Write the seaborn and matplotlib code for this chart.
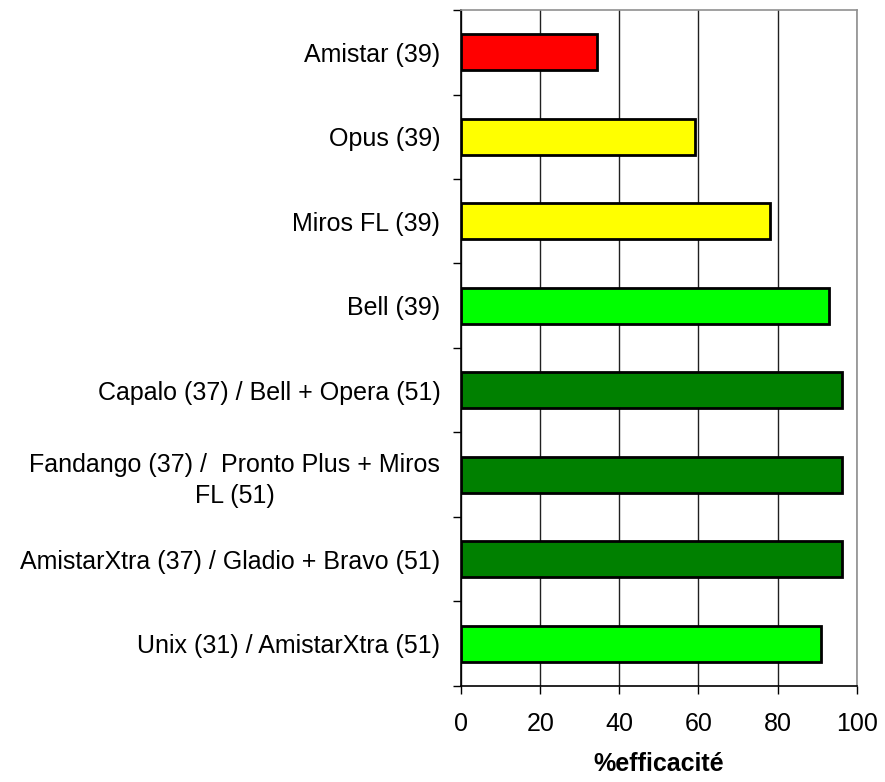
import numpy as np
import pandas as pd
import matplotlib
matplotlib.use("Agg")
import matplotlib.pyplot as plt
import seaborn as sns

# Données
traitements = [
    "Amistar (39)",
    "Opus (39)",
    "Miros FL (39)",
    "Bell (39)",
    "Capalo (37) / Bell + Opera (51)",
    "Fandango (37) /  Pronto Plus + Miros\nFL (51)",
    "AmistarXtra (37) / Gladio + Bravo (51)",
    "Unix (31) / AmistarXtra (51)",
]
efficacite = [34.4, 59.2, 78.1, 93.1, 96.4, 96.4, 96.4, 90.9]
couleurs = ["#FF0000", "#FFFF00", "#FFFF00", "#00FF00",
            "#008000", "#008000", "#008000", "#00FF00"]

data = pd.DataFrame({"traitement": traitements, "efficacite": efficacite})

sns.set_style("white")
plt.rcParams["font.family"] = ["Liberation Sans", "DejaVu Sans"]
plt.rcParams["text.color"] = "black"
plt.rcParams["xtick.color"] = "black"
plt.rcParams["ytick.color"] = "black"
plt.rcParams["axes.labelcolor"] = "black"

fig = plt.figure(figsize=(8.85, 7.82), dpi=100)
ax = fig.add_axes([0.521, 0.1228, 0.447, 0.8644])

sns.barplot(
    data=data,
    x="efficacite",
    y="traitement",
    hue="traitement",
    palette=couleurs,
    saturation=1,
    orient="h",
    width=0.43,
    edgecolor="black",
    linewidth=2,
    legend=False,
    ax=ax,
)

ax.set_xlim(0, 100)
ax.set_ylim(len(traitements) - 0.5, -0.5)
ax.set_xticks([0, 20, 40, 60, 80, 100])
ax.xaxis.grid(True, color="#202020", linewidth=1)
ax.set_axisbelow(True)

# graduations entre les catégories
ax.set_yticks(np.arange(len(traitements) + 1) - 0.5, minor=True)
ax.tick_params(axis="y", which="major", length=0, pad=15, labelsize=18)
ax.tick_params(axis="y", which="minor", length=6, width=1, color="black", left=True)
ax.tick_params(axis="x", length=6, width=1, color="black", bottom=True, pad=13, labelsize=18)
for lab in ax.get_yticklabels():
    lab.set_multialignment("center")
    lab.set_linespacing(1.35)

for side in ["left", "bottom"]:
    ax.spines[side].set_color("black")
    ax.spines[side].set_linewidth(1.2)
for side in ["top", "right"]:
    ax.spines[side].set_color("#909090")
    ax.spines[side].set_linewidth(1.2)

ax.set_ylabel("")
ax.set_xlabel("%efficacité", fontsize=18, fontweight="bold", labelpad=11)

plt.savefig("out.png", dpi=100)
